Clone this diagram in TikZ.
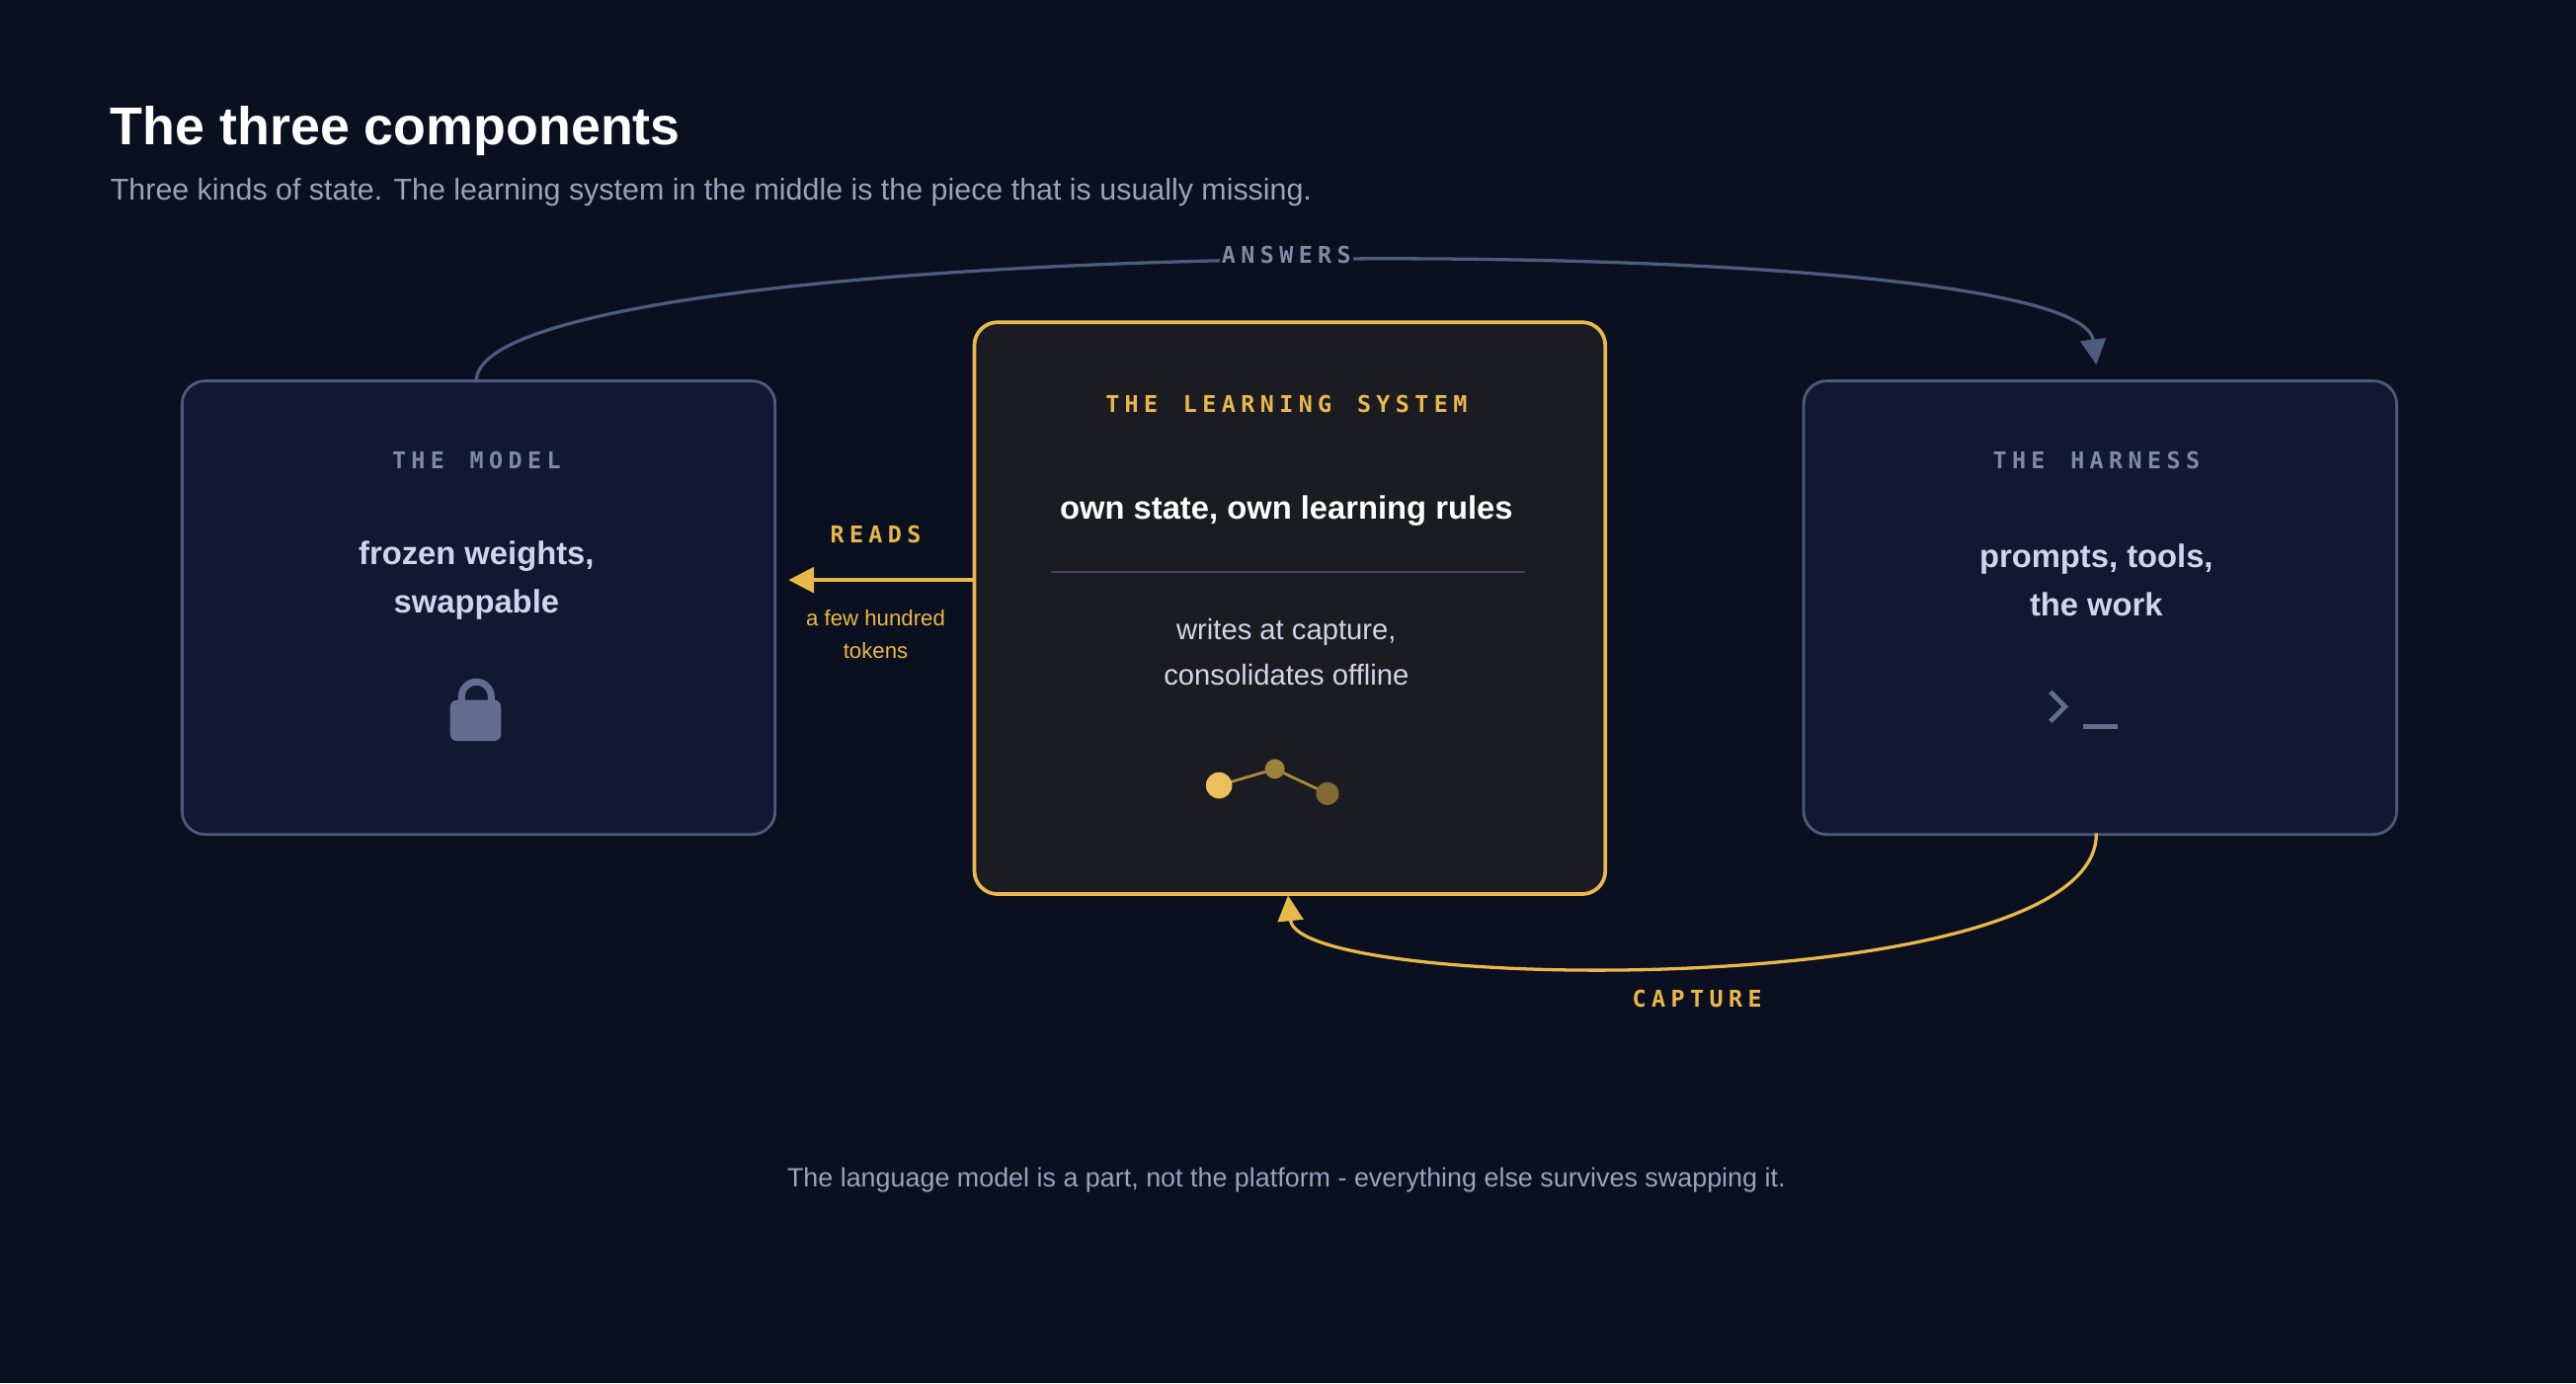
\documentclass[tikz,border=0pt]{standalone}
\usepackage{fontspec}
\setmainfont{Liberation Sans}
\setmonofont{DejaVu Sans Mono}
\usetikzlibrary{arrows.meta}
\definecolor{bg}{HTML}{0B1020}
\definecolor{boxf}{HTML}{111831}
\definecolor{boxd}{HTML}{4E5A7E}
\definecolor{cenf}{HTML}{1B1C22}
\definecolor{gold}{HTML}{E8B84A}
\definecolor{txt}{HTML}{D0D6EA}
\definecolor{lab}{HTML}{7F89A8}
\definecolor{sub}{HTML}{9AA2BC}
\newcommand{\lsp}{\kern2.3pt}
\newcommand{\wsp}{\kern11pt}
\begin{document}
\begin{tikzpicture}[x=0.025cm,y=-0.025cm,
  box/.style={draw=boxd,line width=1.2pt,fill=boxf,rounded corners=10pt,minimum width=361*0.025cm,minimum height=276*0.025cm,anchor=north west},
  cen/.style={draw=gold,line width=1.6pt,fill=cenf,rounded corners=10pt,minimum width=384*0.025cm,minimum height=348*0.025cm,anchor=north west},
  mono/.style={font=\ttfamily\bfseries\fontsize{10}{12}\selectfont},
  body/.style={font=\bfseries\fontsize{14}{21}\selectfont,text=txt,align=center}]
\fill[bg] (0,0) rectangle (1568,842);
\useasboundingbox (0,0) rectangle (1568,842);
\node[anchor=west,text=white,font=\bfseries\fontsize{23}{27}\selectfont,inner sep=0pt] (title) at (67,80) {The three components};
\node[anchor=west,text=sub,font=\fontsize{13}{16}\selectfont,inner sep=0pt] (subt) at (67,117) {Three kinds of state. The learning system in the middle is the piece that is usually missing.};
\node[box] (model) at (110,231) {};
\node[cen] (learn) at (592,195) {};
\node[box] (harn) at (1097,231) {};
% model
\node[mono,text=lab] (ml) at (290,280) {T\lsp H\lsp E\wsp M\lsp O\lsp D\lsp E\lsp L};
\node[body] (mb) at (290,353) {frozen weights,\\swappable};
\draw[boxd!60!lab,line width=3pt] (281,428) -- (281,424) arc[start angle=180,end angle=360,radius=9] -- (299,428);
\fill[boxd!60!lab,rounded corners=3pt] (274,426) rectangle (305,451);
% harness
\node[mono,text=lab] (hl) at (1276,280) {T\lsp H\lsp E\wsp H\lsp A\lsp R\lsp N\lsp E\lsp S\lsp S};
\node[body] (hb) at (1276,353) {prompts, tools,\\the work};
\draw[boxd!60!lab,line width=2pt] (1248,421) -- (1257,430) -- (1248,439);
\draw[boxd!60!lab,line width=2pt] (1268,442) -- (1289,442);
% learning
\node[mono,text=gold] (ll) at (783,246) {T\lsp H\lsp E\wsp L\lsp E\lsp A\lsp R\lsp N\lsp I\lsp N\lsp G\wsp S\lsp Y\lsp S\lsp T\lsp E\lsp M};
\node[font=\bfseries\fontsize{14}{17}\selectfont,text=white] (lb) at (783,311) {own state, own learning rules};
\coordinate (d1) at (640,348); \coordinate (d2) at (928,348);
\draw[boxd!80!black,line width=0.8pt] (d1) -- (d2);
\node[font=\fontsize{12.5}{19.5}\selectfont,text=txt,align=center] (lw) at (783,397) {writes at capture,\\consolidates offline};
\coordinate (p1) at (742,478); \coordinate (p2) at (776,468); \coordinate (p3) at (808,483);
\draw[gold!70!cenf,line width=1.2pt] (p1) -- (p2) -- (p3);
\fill[gold!90!white] (p1) circle[radius=8];
\fill[gold!65!cenf] (p2) circle[radius=6];
\fill[gold!50!cenf] (p3) circle[radius=7];
% reads
\coordinate (ra) at (592,353); \coordinate (rb) at (480,353);
\draw[gold,line width=1.6pt,-{Triangle[length=11pt,width=11pt]}] (ra) -- (rb);
\node[mono,text=gold] (rl) at (533,325) {R\lsp E\lsp A\lsp D\lsp S};
\node[font=\fontsize{9.5}{14}\selectfont,text=gold,align=center] (rt) at (533,386) {a few hundred\\tokens};
% answers
\coordinate (as) at (290,231); \coordinate (ae) at (1276,222);
\draw[boxd,line width=1.4pt,-{Triangle[length=11pt,width=11pt]}] (as) .. controls (295,140) and (1265,135) .. (ae);
\node[mono,text=lab,fill=bg,inner sep=1pt] (al) at (783,155) {A\lsp N\lsp S\lsp W\lsp E\lsp R\lsp S};
% capture
\coordinate (cs) at (1276,507); \coordinate (ce) at (784,545);
\draw[gold,line width=1.4pt,-{Triangle[length=11pt,width=11pt]}] (cs) .. controls (1278,610) and (790,605) .. (ce);
\node[mono,text=gold] (cl) at (1033,608) {C\lsp A\lsp P\lsp T\lsp U\lsp R\lsp E};
\node[font=\fontsize{11.5}{14}\selectfont,text=sub] (foot) at (783,718) {The language model is a part, not the platform - everything else survives swapping it.};
\end{tikzpicture}
\end{document}
